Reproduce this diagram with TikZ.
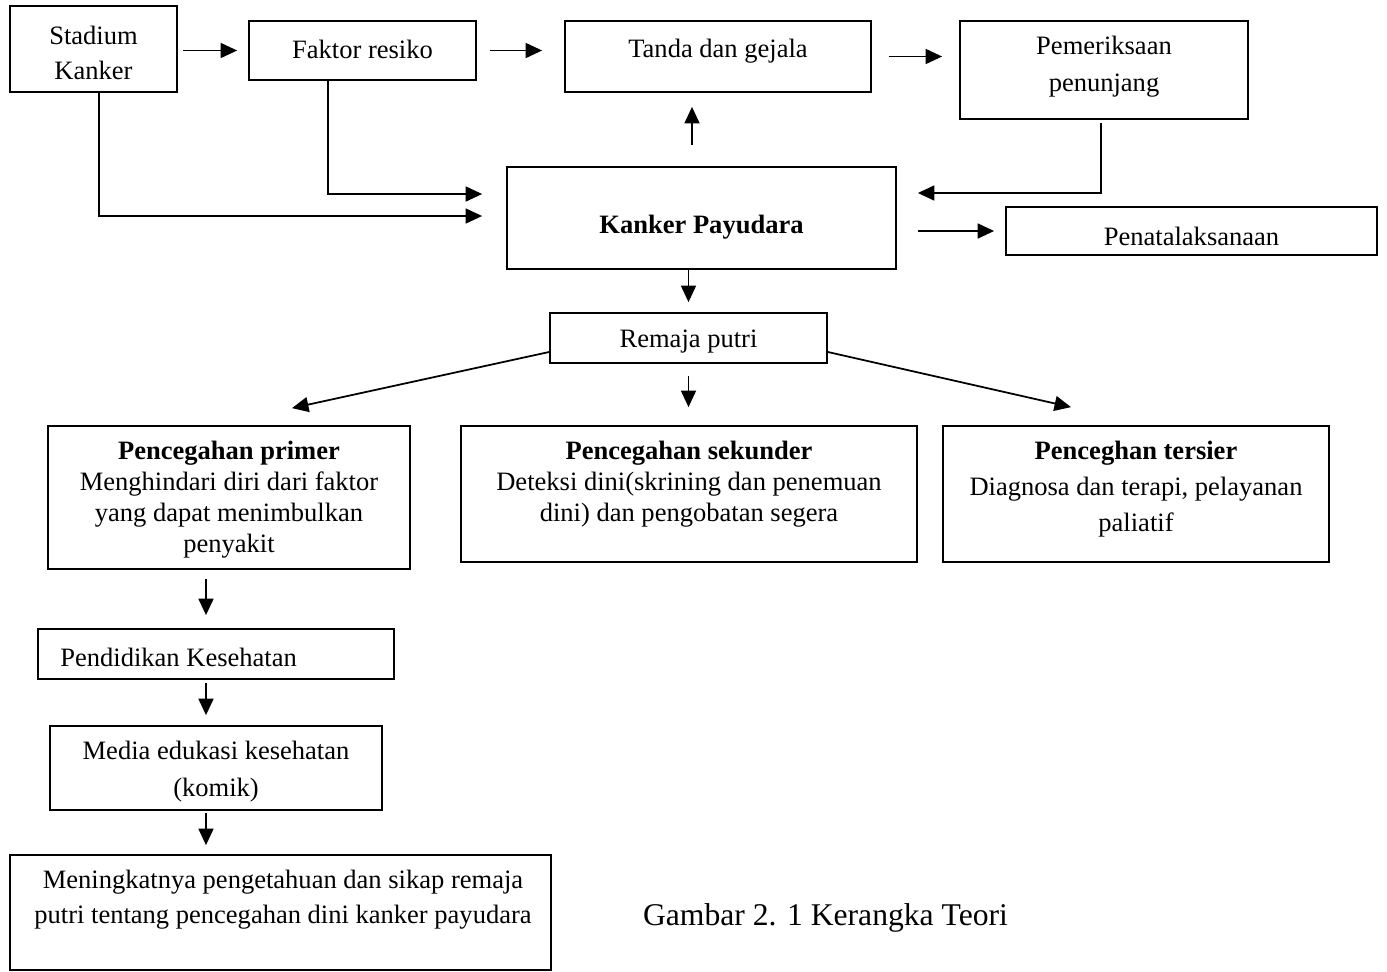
\documentclass[tikz,border=0pt]{standalone}
\usepackage{fontspec}
\setmainfont{Liberation Serif}
\usetikzlibrary{arrows.meta,fit}
\tikzset{
	box/.style={draw, line width=1pt, inner sep=0pt},
	lbl/.style={font=\fontsize{15.1}{20.4}\selectfont, align=center, inner sep=0pt},
	arr/.style={line width=1pt, -{Triangle[length=0.33cm,width=0.3cm]}}
}

\begin{document}
\begin{tikzpicture}[x=0.02cm, y=-0.02cm]
			%%%%% START %%%%%
			\useasboundingbox (0,0) rectangle (1387,971);
			
			\node[box, fit={(10,6) (177,92)}] (stadium) {};
			\node[box, fit={(249,21) (476,80)}] (faktor) {};
			\node[box, fit={(565,21) (871,92)}] (tanda) {};
			\node[box, fit={(960,21) (1248,119)}] (periksa) {};
			\node[box, fit={(507,167) (896,269)}] (kanker) {};
			\node[box, fit={(1006,207) (1377,255)}] (tatalaksana) {};
			\node[box, fit={(550,313) (827,363)}] (remaja) {};
			
			\node[box, fit={(48,426) (410,569)}] (primer) {};
			\node[box, fit={(461,426) (917,562)}] (sekunder) {};
			\node[box, fit={(943,426) (1329,562)}] (tersier) {};
			\node[box, fit={(38,629) (394,679)}] (pendidikan) {};
			\node[box, fit={(50,726) (382,810)}] (media) {};
			\node[box, fit={(10,855) (551,970)}] (hasil) {};
			
			\node[lbl, font=\fontsize{15.1}{19.9}\selectfont] (stadium-t) at (93.5,52.5) {Stadium\\Kanker};
			\node[lbl] (faktor-t) at (362.5,49) {Faktor resiko};
			\node[lbl] (tanda-t) at (718,51) {Tanda dan gejala};
			\node[lbl, font=\fontsize{15.1}{21}\selectfont] (periksa-t) at (1104,67) {Pemeriksaan\\penunjang};
			\node[lbl] (kanker-t) at (701.5,227) {\textbf{Kanker Payudara}};
			\node[lbl] (tatalaksana-t) at (1191.5,236) {Penatalaksanaan};
			\node[lbl] (remaja-t) at (688.5,342) {Remaja putri};
			
			\node[lbl, font=\fontsize{15.1}{17.6}\selectfont] (primer-t) at (229,500) {\textbf{Pencegahan primer}\\Menghindari diri dari faktor\\yang dapat menimbulkan\\penyakit};
			\node[lbl, font=\fontsize{15.1}{17.6}\selectfont] (sekunder-t) at (689,484) {\textbf{Pencegahan sekunder}\\Deteksi dini(skrining dan penemuan\\dini) dan pengobatan segera};
			\node[lbl] (tersier-t) at (1136,489) {\textbf{Penceghan tersier}\\Diagnosa dan terapi, pelayanan\\paliatif};
			\node[lbl, anchor=west] (pendidikan-t) at (60,657) {Pendidikan Kesehatan};
			\node[lbl, font=\fontsize{15.1}{21}\selectfont] (media-t) at (216,771.5) {Media edukasi kesehatan\\(komik)};
			\node[lbl, font=\fontsize{15.1}{19.9}\selectfont] (hasil-t) at (283,900) {Meningkatnya pengetahuan dan sikap remaja\\putri tentang pencegahan dini kanker payudara};
			
			\node[inner sep=0pt, font=\fontsize{18}{22}\selectfont] (judul) at (825.5,918) {Gambar 2. 1 Kerangka Teori};
			
			% top row
			\draw[arr, shorten <=0.1cm, shorten >=0.22cm] (stadium.east |- faktor.west) -- (faktor.west);
			\draw[arr, shorten <=0.26cm, shorten >=0.44cm] (faktor.east) -- (faktor.east -| tanda.west);
			\draw[arr, shorten <=0.34cm, shorten >=0.34cm] (tanda.east) -- (tanda.east -| periksa.west);
			
			% into and out of kanker
			\draw[arr, shorten <=0.42cm, shorten >=0.28cm] ([xshift=-0.19cm]kanker.north) -- ([xshift=-0.19cm]kanker.north |- tanda.south);
			\draw[arr, shorten <=0.06cm, shorten >=0.42cm] ([xshift=-0.06cm]periksa.south) |- ([yshift=0.5cm]kanker.east);
			\draw[arr, shorten >=0.48cm] ([xshift=-0.69cm]faktor.south) |- ([yshift=0.48cm]kanker.west);
			\draw[arr, shorten >=0.48cm] ([xshift=0.11cm]stadium.south) |- ([yshift=0.04cm]kanker.west);
			\draw[arr, shorten <=0.42cm, shorten >=0.22cm] (tatalaksana.west -| kanker.east) -- (tatalaksana.west);
			\draw[arr, shorten >=0.2cm] (kanker.south -| remaja.north) -- (remaja.north);
			
			% prevention
			\draw[arr] ([yshift=-0.28cm]remaja.west) -- ([xshift=1.26cm,yshift=0.34cm]primer.north);
			\draw[arr, shorten <=0.24cm, shorten >=0.36cm] (remaja.south) -- (remaja.south |- sekunder.north);
			\draw[arr] ([yshift=-0.28cm]remaja.east) -- ([xshift=-1.3cm,yshift=0.36cm]tersier.north);
			
			\draw[arr, shorten <=0.18cm, shorten >=0.26cm] ([xshift=-0.46cm]primer.south) -- ([xshift=-0.46cm]primer.south |- pendidikan.north);
			\draw[arr, shorten <=0.06cm, shorten >=0.2cm] ([xshift=-0.2cm]pendidikan.south) -- ([xshift=-0.2cm]media.north);
			\draw[arr, shorten <=0.04cm, shorten >=0.18cm] ([xshift=-0.2cm]media.south) -- ([xshift=-0.2cm]media.south |- hasil.north);
			
			%%%%% END %%%%%
\end{tikzpicture}
\end{document}
